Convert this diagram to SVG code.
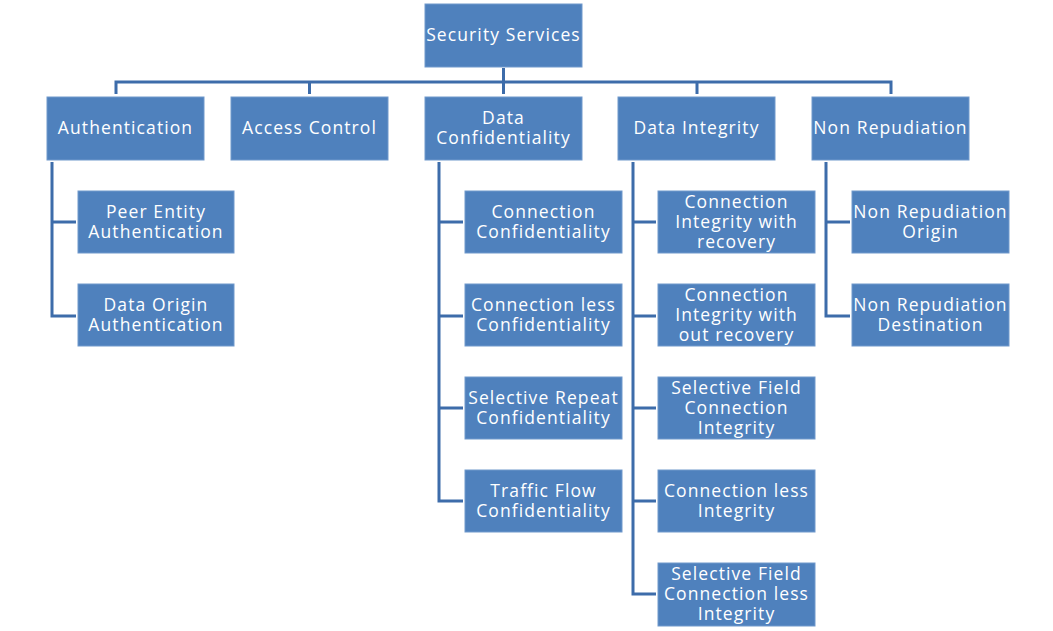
<svg xmlns="http://www.w3.org/2000/svg" width="1053" height="631" viewBox="0 0 1053 631">
<style>
rect.b{fill:#4F81BD;stroke:#7199CC;stroke-width:1}
text{font-family:"Open Sans","DejaVu Sans",sans-serif;font-size:17.5px;letter-spacing:1.1px;fill:#fff;text-anchor:middle;dominant-baseline:central}
.c{fill:none;stroke:#3D6CAA;stroke-width:3}
</style>
<rect width="1053" height="631" fill="#fff"/>
<g id="connectors" class="c">
<path d="M503.5 68V82M116 94V82H891V94M309.5 82V94M503.5 82V94M697 82V94"/>
<path d="M52 162V316H76M52 222H76"/>
<path d="M439 162V501H463M439 222H463M439 316H463M439 408H463"/>
<path d="M633 162V594H656M633 222H656M633 316H656M633 408H656M633 501H656"/>
<path d="M826 162V316H850M826 222H850"/>
</g>
<g id="security-services"><rect class="b" x="425" y="4" width="157" height="63"/><text x="503.5" y="34">Security Services</text></g>
<g id="authentication"><rect class="b" x="47" y="97" width="157" height="63"/><text x="125.5" y="127">Authentication</text></g>
<g id="access-control"><rect class="b" x="231" y="97" width="157" height="63"/><text x="309.5" y="127">Access Control</text></g>
<g id="data-confidentiality"><rect class="b" x="425" y="97" width="157" height="63"/><text x="503.5" y="117">Data</text><text x="503.5" y="137">Confidentiality</text></g>
<g id="data-integrity"><rect class="b" x="618" y="97" width="157" height="63"/><text x="696.5" y="127">Data Integrity</text></g>
<g id="non-repudiation"><rect class="b" x="812" y="97" width="157" height="63"/><text x="890.5" y="127">Non Repudiation</text></g>
<g id="peer-entity"><rect class="b" x="78" y="191" width="156" height="62"/><text x="156" y="211">Peer Entity</text><text x="156" y="231">Authentication</text></g>
<g id="data-origin"><rect class="b" x="78" y="284" width="156" height="62"/><text x="156" y="304">Data Origin</text><text x="156" y="324">Authentication</text></g>
<g id="conn-conf"><rect class="b" x="465" y="191" width="157" height="62"/><text x="543.5" y="211">Connection</text><text x="543.5" y="231">Confidentiality</text></g>
<g id="connless-conf"><rect class="b" x="465" y="284" width="157" height="62"/><text x="543.5" y="304">Connection less</text><text x="543.5" y="324">Confidentiality</text></g>
<g id="selective-conf"><rect class="b" x="465" y="377" width="157" height="62"/><text x="543.5" y="397">Selective Repeat</text><text x="543.5" y="417">Confidentiality</text></g>
<g id="traffic-flow"><rect class="b" x="465" y="470" width="157" height="62"/><text x="543.5" y="490">Traffic Flow</text><text x="543.5" y="510">Confidentiality</text></g>
<g id="ci-recovery"><rect class="b" x="658" y="191" width="157" height="62"/><text x="736.5" y="201">Connection</text><text x="736.5" y="221">Integrity with</text><text x="736.5" y="241">recovery</text></g>
<g id="ci-norecovery"><rect class="b" x="658" y="284" width="157" height="62"/><text x="736.5" y="294">Connection</text><text x="736.5" y="314">Integrity with</text><text x="736.5" y="334">out recovery</text></g>
<g id="sf-ci"><rect class="b" x="658" y="377" width="157" height="62"/><text x="736.5" y="387">Selective Field</text><text x="736.5" y="407">Connection</text><text x="736.5" y="427">Integrity</text></g>
<g id="connless-int"><rect class="b" x="658" y="470" width="157" height="62"/><text x="736.5" y="490">Connection less</text><text x="736.5" y="510">Integrity</text></g>
<g id="sf-connless-int"><rect class="b" x="658" y="563" width="157" height="63"/><text x="736.5" y="573">Selective Field</text><text x="736.5" y="593">Connection less</text><text x="736.5" y="613">Integrity</text></g>
<g id="nr-origin"><rect class="b" x="852" y="191" width="157" height="62"/><text x="930.5" y="211">Non Repudiation</text><text x="930.5" y="231">Origin</text></g>
<g id="nr-destination"><rect class="b" x="852" y="284" width="157" height="62"/><text x="930.5" y="304">Non Repudiation</text><text x="930.5" y="324">Destination</text></g>
</svg>
